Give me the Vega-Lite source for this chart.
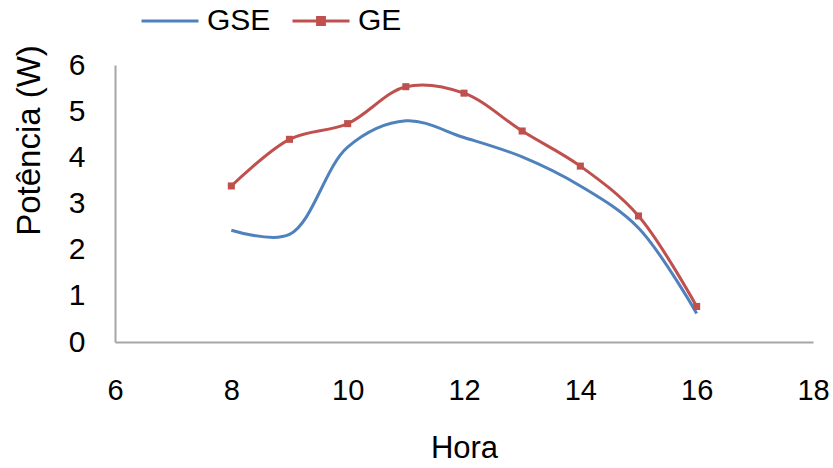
{
  "$schema": "https://vega.github.io/schema/vega-lite/v6.json",
  "autosize": "none",
  "width": 698,
  "height": 277,
  "padding": {"left": 115, "top": 65, "right": 20, "bottom": 126},
  "background": "white",
  "config": {
    "view": {"stroke": null},
    "font": "Liberation Sans"
  },
  "data": {
    "values": [
      {"hora": 8, "serie": "GSE", "potencia": 2.42},
      {"hora": 9, "serie": "GSE", "potencia": 2.33},
      {"hora": 10, "serie": "GSE", "potencia": 4.22},
      {"hora": 11, "serie": "GSE", "potencia": 4.79},
      {"hora": 12, "serie": "GSE", "potencia": 4.43},
      {"hora": 13, "serie": "GSE", "potencia": 4.01},
      {"hora": 14, "serie": "GSE", "potencia": 3.38},
      {"hora": 15, "serie": "GSE", "potencia": 2.47},
      {"hora": 16, "serie": "GSE", "potencia": 0.62},
      {"hora": 8, "serie": "GE", "potencia": 3.38},
      {"hora": 9, "serie": "GE", "potencia": 4.39},
      {"hora": 10, "serie": "GE", "potencia": 4.73},
      {"hora": 11, "serie": "GE", "potencia": 5.53},
      {"hora": 12, "serie": "GE", "potencia": 5.39},
      {"hora": 13, "serie": "GE", "potencia": 4.57},
      {"hora": 14, "serie": "GE", "potencia": 3.81},
      {"hora": 15, "serie": "GE", "potencia": 2.73},
      {"hora": 16, "serie": "GE", "potencia": 0.77}
    ]
  },
  "encoding": {
    "x": {
      "field": "hora", "type": "quantitative",
      "scale": {"domain": [6, 18], "nice": false, "zero": false},
      "axis": {
        "title": "Hora", "values": [6, 8, 10, 12, 14, 16, 18],
        "grid": false, "ticks": false, "domainColor": "#A6A6A6", "domainWidth": 2,
        "labelFontSize": 29, "labelColor": "#000000",
        "labelPadding": 34, "labelFlush": false,
        "titleFontSize": 31, "titleFontWeight": "normal", "titleColor": "#000000",
        "titleX": 349, "titleY": 106, "titleBaseline": "middle", "titleAlign": "center"
      }
    },
    "y": {
      "field": "potencia", "type": "quantitative",
      "scale": {"domain": [0, 6], "nice": false},
      "axis": {
        "title": "Potência (W)", "values": [0, 1, 2, 3, 4, 5, 6],
        "grid": false, "ticks": false, "domainColor": "#A6A6A6", "domainWidth": 2,
        "labelFontSize": 30, "labelColor": "#000000", "labelPadding": 30, "labelFlush": false,
        "titleFontSize": 33, "titleFontWeight": "normal", "titleColor": "#000000",
        "titleAngle": -90, "titleX": -86, "titleY": 75, "titleBaseline": "middle", "titleAlign": "center"
      }
    },
    "color": {
      "field": "serie", "type": "nominal",
      "scale": {"domain": ["GSE", "GE"], "range": ["#4F81BD", "#C0504D"]},
      "legend": {
        "title": null, "orient": "none", "direction": "horizontal",
        "legendX": 25, "legendY": -74,
        "labelFontSize": 30, "labelColor": "#000000", "labelOffset": 7,
        "symbolSize": 3249, "symbolStrokeWidth": 3, "columnPadding": 15,
        "encode": {
          "symbols": {
            "update": {
              "shape": {"signal": "datum.value === 'GE' ? 'M-1,0H1M-0.12,-0.12H0.12V0.12H-0.12Z' : 'M-1,0H1'"},
              "fill": {"signal": "datum.value === 'GE' ? '#C0504D' : 'transparent'"}
            }
          }
        }
      }
    }
  },
  "layer": [
    {
      "mark": {"type": "line", "interpolate": "catmull-rom", "strokeWidth": 3}
    },
    {
      "transform": [{"filter": "datum.serie === 'GE'"}],
      "mark": {"type": "point", "shape": "square", "filled": true, "size": 50, "opacity": 1}
    }
  ]
}
